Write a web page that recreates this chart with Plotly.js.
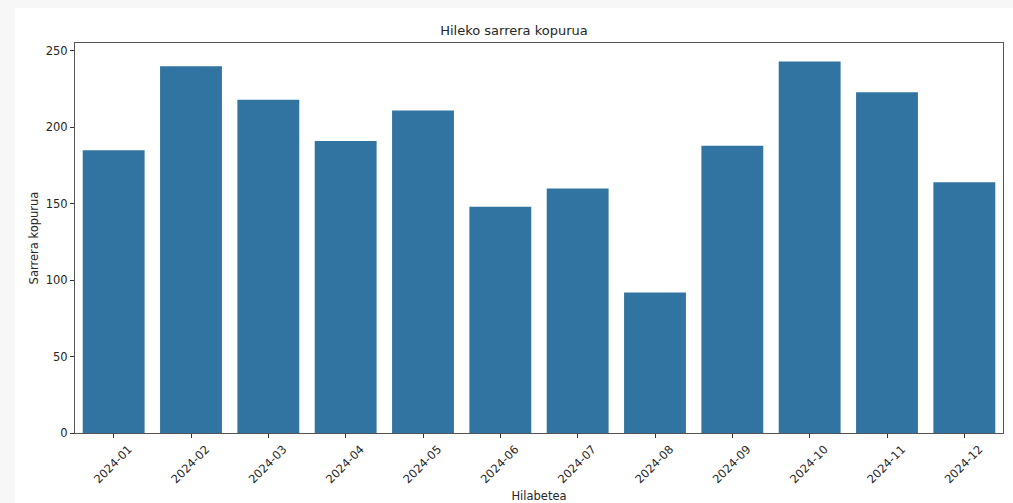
<!DOCTYPE html>
<html>
<head>
<meta charset="utf-8">
<script src="https://cdn.plot.ly/plotly-3.0.1.min.js"></script>
<style>
html,body{margin:0;padding:0;background:#f7f7f7;width:1013px;height:503px;overflow:hidden;}
#chart{position:absolute;left:15px;top:8px;width:998px;height:495px;background:#fff;}
</style>
</head>
<body>
<div id="chart"></div>
<script>
const months = ["2024-01","2024-02","2024-03","2024-04","2024-05","2024-06","2024-07","2024-08","2024-09","2024-10","2024-11","2024-12"];
const entries = [185, 240, 218, 191, 211, 148, 160, 92, 188, 243, 223, 164];
const yTicks = [0, 50, 100, 150, 200, 250];

const font = "DejaVu Sans, sans-serif";
const trace = {
  type: "bar",
  x: months,
  y: entries,
  marker: {color: "#3274a1", line: {width: 0}},
  hoverinfo: "x+y"
};
const layout = {
  width: 998, height: 495,
  margin: {l: 60, r: 10, t: 35, b: 70},
  paper_bgcolor: "#ffffff",
  plot_bgcolor: "#ffffff",
  bargap: 0.2,
  showlegend: false,
  title: {text: "Hileko sarrera kopurua", font: {family: font, size: 13, color: "#262626"}, x: 0.5, xanchor: "center", y: 1, yanchor: "top", pad: {t: 18}},
  xaxis: {
    type: "category",
    title: {text: "Hilabetea", font: {family: font, size: 11.5, color: "#262626"}, standoff: 6},
    tickangle: -45,
    ticklabelshift: 15,
    tickfont: {family: font, size: 11.5, color: "#262626"},
    ticks: "outside", ticklen: 4, tickcolor: "#333", tickwidth: 1,
    showline: true, linecolor: "#555", linewidth: 1, mirror: true,
    showgrid: false, zeroline: false,
    range: [-0.5, 11.5]
  },
  yaxis: {
    title: {text: "Sarrera kopurua", font: {family: font, size: 11.5, color: "#262626"}, standoff: 4},
    range: [0, 255.15],
    tickvals: yTicks,
    ticktext: yTicks.map(String),
    tickfont: {family: font, size: 11.5, color: "#262626"},
    ticks: "outside", ticklen: 4, tickcolor: "#333", tickwidth: 1,
    showline: true, linecolor: "#555", linewidth: 1, mirror: true,
    showgrid: false, zeroline: false
  }
};
Plotly.newPlot("chart", [trace], layout, {displayModeBar: false, staticPlot: true});
</script>
</body>
</html>
